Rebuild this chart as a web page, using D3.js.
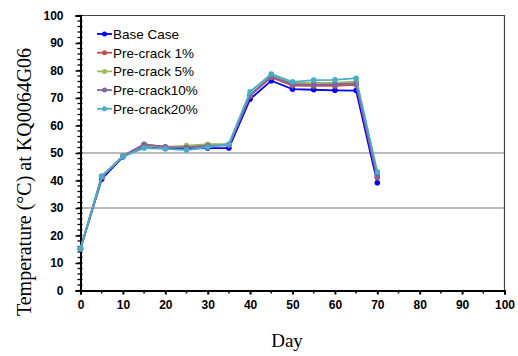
<!DOCTYPE html>
<html>
<head>
<meta charset="utf-8">
<script src="https://cdn.jsdelivr.net/npm/d3@7"></script>
<style>
  body { margin: 0; background: #fff; }
  .tick text { font-family: "Liberation Sans", Arial, sans-serif; font-weight: bold; font-size: 12px; fill: #000; }
</style>
</head>
<body>
<div id="chart"></div>
<script>
// data
var days = [0, 5, 10, 15, 20, 25, 30, 35, 40, 45, 50, 55, 60, 65, 70];
var seriesNames = ["Base Case", "Pre-crack 1%", "Pre-crack 5%", "Pre-crack10%", "Pre-crack20%"];
var baseCase   = [15.2, 40.5, 48.6, 52.5, 51.8, 51.6, 51.8, 51.8, 69.6, 76.3, 73.2, 73.0, 72.8, 72.7, 39.2];
var preCrack1  = [15.2, 41.2, 48.8, 53.0, 52.3, 52.4, 53.0, 53.0, 70.8, 77.5, 74.5, 74.4, 74.4, 74.8, 41.0];
var preCrack5  = [15.2, 41.4, 48.9, 52.8, 52.0, 52.7, 53.2, 53.1, 71.3, 78.0, 75.5, 75.5, 75.5, 76.0, 42.0];
var preCrack10 = [15.2, 41.3, 48.9, 53.2, 52.1, 52.0, 52.6, 52.8, 71.0, 77.8, 75.0, 74.9, 75.0, 75.3, 41.5];
var preCrack20 = [15.2, 41.6, 48.7, 51.8, 51.5, 51.1, 52.1, 53.3, 72.3, 78.7, 75.9, 76.5, 76.6, 77.2, 43.2];
var colors = ["#0000ff", "#c0504d", "#9bbb59", "#8064a2", "#4bacc6"];
var xTicks = [0, 10, 20, 30, 40, 50, 60, 70, 80, 90, 100];
var yTicks = [0, 10, 20, 30, 40, 50, 60, 70, 80, 90, 100];
var gridValues = [30, 50];

var allSeries = [baseCase, preCrack1, preCrack5, preCrack10, preCrack20];

var svgWidth = 518;
var svgHeight = 356;

var svg = d3.select("#chart")
  .append("svg")
  .attr("width", svgWidth)
  .attr("height", svgHeight);

var xScale = d3.scaleLinear().domain([0, 100]).range([80.5, 504.5]);
var yScale = d3.scaleLinear().domain([0, 100]).range([290.5, 15.5]);

// gridlines
svg.append("g")
  .selectAll("line")
  .data(gridValues)
  .enter()
  .append("line")
  .attr("x1", xScale(0))
  .attr("x2", xScale(100))
  .attr("y1", function(d) { return yScale(d); })
  .attr("y2", function(d) { return yScale(d); })
  .attr("stroke", "#a6a6a6")
  .attr("stroke-width", 1.3);

// plot frame top / right
svg.append("path")
  .attr("d", "M" + xScale(0) + "," + yScale(100) + "H" + xScale(100) + "V" + yScale(0))
  .attr("fill", "none")
  .attr("stroke", "#444")
  .attr("stroke-width", 1.2);

// minor ticks
var yMinor = d3.range(0, 101, 2);
svg.append("g")
  .selectAll("line")
  .data(yMinor)
  .enter()
  .append("line")
  .attr("x1", xScale(0) - 3)
  .attr("x2", xScale(0) + 2)
  .attr("y1", function(d) { return yScale(d); })
  .attr("y2", function(d) { return yScale(d); })
  .attr("stroke", "#000")
  .attr("stroke-width", 1.3);

var xMinor = d3.range(5, 100, 10);
svg.append("g")
  .selectAll("line")
  .data(xMinor)
  .enter()
  .append("line")
  .attr("x1", function(d) { return xScale(d); })
  .attr("x2", function(d) { return xScale(d); })
  .attr("y1", yScale(0))
  .attr("y2", yScale(0) + 3)
  .attr("stroke", "#000")
  .attr("stroke-width", 1.5);

// axes
var xAxis = d3.axisBottom(xScale).tickValues(xTicks).tickSize(4).tickPadding(6);
var yAxis = d3.axisLeft(yScale).tickValues(yTicks).tickSize(5).tickPadding(12);

var gx = svg.append("g")
  .attr("transform", "translate(0," + yScale(0) + ")")
  .call(xAxis);
gx.select(".domain").attr("stroke", "#000").attr("stroke-width", 2);
gx.selectAll(".tick line").attr("stroke-width", 2);

var gy = svg.append("g")
  .attr("transform", "translate(" + xScale(0) + ",0)")
  .call(yAxis);
gy.select(".domain").attr("stroke", "#000").attr("stroke-width", 2);
gy.selectAll(".tick line").attr("stroke-width", 1.5);

// series
var line = d3.line()
  .x(function(d, i) { return xScale(days[i]); })
  .y(function(d) { return yScale(d); });

allSeries.forEach(function(values, k) {
  var g = svg.append("g");
  g.append("path")
    .datum(values)
    .attr("d", line)
    .attr("fill", "none")
    .attr("stroke", colors[k])
    .attr("stroke-width", 1.8);
  g.selectAll("circle")
    .data(values)
    .enter()
    .append("circle")
    .attr("cx", function(d, i) { return xScale(days[i]); })
    .attr("cy", function(d) { return yScale(d); })
    .attr("r", 2.8)
    .attr("fill", colors[k]);
});

// legend
var legend = svg.append("g").attr("transform", "translate(97,34)");
seriesNames.forEach(function(name, k) {
  var row = legend.append("g").attr("transform", "translate(0," + (k * 18.7) + ")");
  row.append("line")
    .attr("x1", 0).attr("x2", 15)
    .attr("stroke", colors[k]).attr("stroke-width", 1.8);
  row.append("circle")
    .attr("cx", 7.5).attr("r", 2.5).attr("fill", colors[k]);
  row.append("text")
    .attr("x", 16)
    .attr("y", 5)
    .attr("font-family", "Liberation Sans, Arial, sans-serif")
    .attr("font-size", 13.5)
    .text(name);
});

// axis titles
svg.append("text")
  .attr("x", 287)
  .attr("y", 347)
  .attr("text-anchor", "middle")
  .attr("font-family", "Liberation Serif, Times New Roman, serif")
  .attr("font-size", 19)
  .text("Day");

svg.append("text")
  .attr("transform", "translate(31,182)rotate(-90)")
  .attr("text-anchor", "middle")
  .attr("font-family", "Liberation Serif, Times New Roman, serif")
  .attr("font-size", 20)
  .text("Temperature (°C) at KQ0064G06");
</script>
</body>
</html>
